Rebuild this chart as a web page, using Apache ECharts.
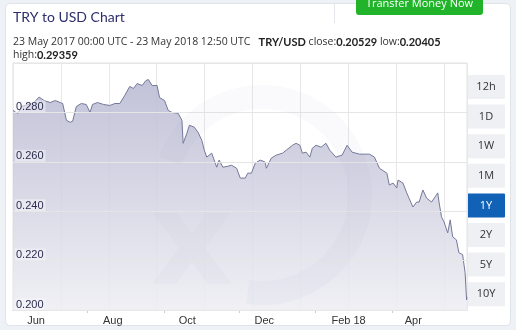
<!DOCTYPE html>
<html>
<head>
<meta charset="utf-8">
<script src="https://cdn.jsdelivr.net/npm/echarts@6/dist/echarts.min.js"></script>
<style>
html,body{margin:0;padding:0;background:#eef2f6;width:516px;height:330px;overflow:hidden;}
#card{position:absolute;left:5px;top:3px;width:504px;height:321px;background:#fff;border:1px solid #dfe4ea;border-radius:5px;}
#chart{position:absolute;left:0;top:0;width:516px;height:330px;}
</style>
</head>
<body>
<div id="card"></div>
<div id="chart"></div>
<script>
// ---- data ----
const startDateUTC = Date.UTC(2017, 4, 23);           // 23 May 2017 00:00 UTC
const endDateUTC = Date.UTC(2018, 4, 23, 12, 50);     // 23 May 2018 12:50 UTC
const dayOffsets = [0,4,7,12,16,21,25,30,34,38,40,43,46,48,51,55,59,62,64,68,73,78,82,86,90,94,97,100,104,107,109,112,116,118,122,125,128,133,136,137,140,142,146,149,152,154,156,160,164,166,169,173,176,180,183,187,189,192,195,199,203,204,208,212,217,220,225,228,231,233,236,239,241,244,248,252,255,260,265,269,273,279,287,291,295,301,303,306,309,310,314,317,322,325,327,330,333,337,342,343,345,347,350,352,354,357,359,362,364,365.2,365.5];
const rates = [0.2808,0.2796,0.2824,0.2832,0.2836,0.2862,0.2848,0.2840,0.2848,0.2840,0.2836,0.2768,0.2760,0.2764,0.2824,0.2836,0.2832,0.2800,0.2832,0.2840,0.2832,0.2828,0.2836,0.2836,0.2869,0.2905,0.2897,0.2917,0.2909,0.2929,0.2933,0.2909,0.2909,0.2860,0.2848,0.2808,0.2800,0.2796,0.2768,0.2675,0.2715,0.2748,0.2740,0.2719,0.2687,0.2647,0.2619,0.2635,0.2578,0.2607,0.2578,0.2582,0.2586,0.2574,0.2534,0.2534,0.2554,0.2554,0.2594,0.2607,0.2599,0.2574,0.2615,0.2627,0.2635,0.2647,0.2667,0.2675,0.2667,0.2635,0.2639,0.2619,0.2655,0.2667,0.2659,0.2675,0.2647,0.2619,0.2627,0.2667,0.2639,0.2631,0.2631,0.2619,0.2574,0.2554,0.2506,0.2514,0.2494,0.2526,0.2514,0.2474,0.2417,0.2437,0.2437,0.2486,0.2453,0.2437,0.2474,0.2437,0.2377,0.2357,0.2312,0.2365,0.2296,0.2284,0.2232,0.2224,0.2151,0.2041,0.2053];
const monthTicks = [Date.UTC(2017,5,1), Date.UTC(2017,7,1), Date.UTC(2017,9,1), Date.UTC(2017,11,1), Date.UTC(2018,1,1), Date.UTC(2018,3,1)];
const monthLabels = ['Jun','Aug','Oct','Dec','Feb 18','Apr'];
const tickDayOffsets = [60, 122, 182.5, 243, 305];
const rangeButtons = ['12h','1D','1W','1M','1Y','2Y','5Y','10Y'];
const selectedRange = '1Y';
const headerTitle = 'TRY to USD Chart';
const periodText = '23 May 2017 00:00 UTC - 23 May 2018 12:50 UTC';
const pairName = 'TRY/USD';
const closeVal = '0.20529', lowVal = '0.20405', highVal = '0.29359';

const DAY = 86400000;
const seriesData = dayOffsets.map((d, i) => [startDateUTC + d * DAY, rates[i]]);

const chart = echarts.init(document.getElementById('chart'), null, {renderer: 'canvas'});

const headFont = '"Open Sans", Lato, sans-serif';
const boldFont = 'Lato, "Open Sans", sans-serif';
const axisFont = '"Liberation Sans", Arial, sans-serif';

const graphics = [];
// watermark
graphics.push({
  type: 'arc', z: 100, silent: true,
  shape: {cx: 262, cy: 195, r: 98, startAngle: 3.5, endAngle: 8.0},
  style: {stroke: 'rgba(130,132,175,0.045)', lineWidth: 24, fill: null}
});
graphics.push({
  type: 'text', z: 100, silent: true, x: 150, y: 185,
  style: {text: 'x', font: 'bold 130px "DejaVu Sans", sans-serif', fill: 'rgba(130,132,175,0.035)'}
});
// header
graphics.push({
  type: 'text', x: 13, y: 17,
  style: {text: headerTitle, font: '14px Lato, sans-serif', fill: '#2e2e6e', textVerticalAlign: 'middle'}
});
graphics.push({
  type: 'line', shape: {x1: 334.5, y1: 3, x2: 334.5, y2: 23},
  style: {stroke: '#e3e6ea', lineWidth: 1}
});
graphics.push({
  type: 'rect', shape: {x: 356, y: -6, width: 127, height: 21, r: 3},
  style: {fill: '#21b42b'}
});
graphics.push({
  type: 'text', x: 419.5, y: 4,
  style: {text: 'Transfer Money Now', font: '11px ' + headFont, fill: '#ffffff', textAlign: 'center', textVerticalAlign: 'middle'}
});
graphics.push({
  type: 'text', x: 13, y: 42,
  style: {
    text: periodText + '   {b|' + pairName + '} close:{b|' + closeVal + '} low:{b|' + lowVal + '}',
    font: '10.5px ' + headFont, fill: '#333', textVerticalAlign: 'middle',
    rich: {b: {font: 'bold 11px ' + boldFont, fill: '#222'}}
  }
});
graphics.push({
  type: 'text', x: 13, y: 55,
  style: {
    text: 'high:{b|' + highVal + '}',
    font: '10.5px ' + headFont, fill: '#333', textVerticalAlign: 'middle',
    rich: {b: {font: 'bold 11px ' + boldFont, fill: '#222'}}
  }
});
// range buttons
rangeButtons.forEach((lab, i) => {
  const y = 75 + i * 29.6;
  const sel = lab === selectedRange;
  graphics.push({
    type: 'rect', shape: {x: 467, y: y, width: 38, height: 24, r: 1},
    style: {fill: sel ? '#1161b6' : '#eff0f3'}
  });
  graphics.push({
    type: 'text', x: 486, y: y + 12,
    style: {text: lab, font: '11px ' + headFont, fill: sel ? '#ffffff' : '#333', textAlign: 'center', textVerticalAlign: 'middle'}
  });
});

const option = {
  animation: false,
  grid: {left: 13, right: 49, top: 63, bottom: 20, show: true, borderColor: '#e2e2e2', borderWidth: 1, backgroundColor: '#fff'},
  xAxis: [{
    type: 'value',
    min: startDateUTC, max: endDateUTC,
    axisLine: {show: true, lineStyle: {color: '#c9c9c9'}},
    axisTick: {show: true, customValues: tickDayOffsets.map(d => startDateUTC + d * DAY), length: 3, lineStyle: {color: '#ccc'}},
    splitLine: {show: false},
    axisLabel: {
      customValues: monthTicks,
      formatter: function (v) { const k = monthTicks.indexOf(v); return k >= 0 ? monthLabels[k] : ''; },
      align: 'left', padding: [0, 0, 0, 3], margin: 5,
      color: '#333', fontSize: 11, fontFamily: axisFont
    }
  }, {
    type: 'value', min: 0, max: 454 / 47.9, interval: 1, position: 'top',
    axisLine: {show: false}, axisTick: {show: false}, axisLabel: {show: false},
    splitLine: {show: true, lineStyle: {color: '#e8e8e8', width: 1}}
  }],
  yAxis: {
    type: 'value', min: 0.2, max: 0.3, interval: 0.02,
    axisLine: {show: false}, axisTick: {show: false},
    splitLine: {show: true, lineStyle: {color: '#e6e6e6'}},
    axisLabel: {
      inside: true, showMaxLabel: false, verticalAlign: 'bottom', margin: 2,
      formatter: v => v.toFixed(3),
      color: '#2a2c4e', fontSize: 11, fontFamily: axisFont,
      backgroundColor: 'rgba(244,244,250,0.55)', padding: [1, 2, 0, 1]
    },
    z: 5
  },
  series: [{
    type: 'line', xAxisIndex: 0, data: seriesData, showSymbol: false, symbol: 'none',
    lineStyle: {color: '#74799a', width: 1},
    areaStyle: {
      opacity: 1,
      color: new echarts.graphic.LinearGradient(0, 0, 0, 1, [
        {offset: 0, color: 'rgba(183,184,209,0.85)'},
        {offset: 1, color: 'rgba(237,237,243,0.85)'}
      ])
    },
    z: 2
  }],
  graphic: graphics
};
chart.setOption(option);
</script>
</body>
</html>
